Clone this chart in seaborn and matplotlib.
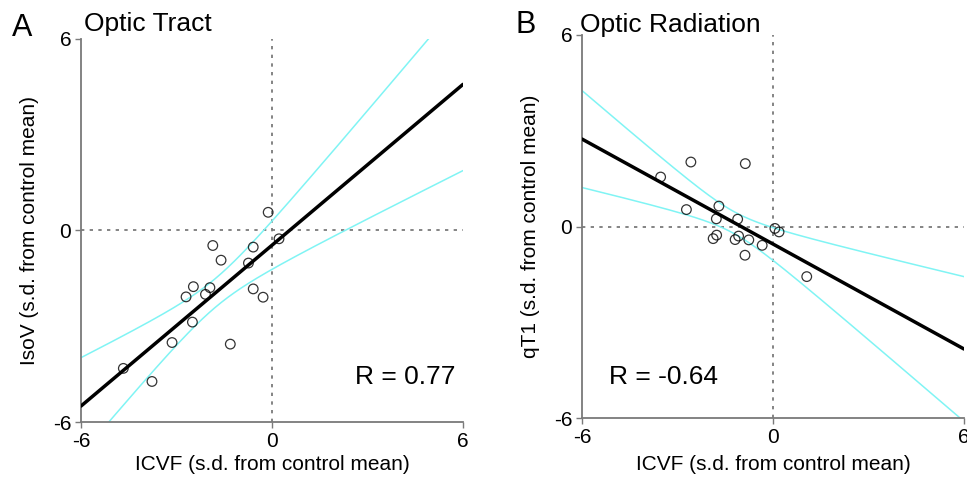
import numpy as np
import matplotlib
matplotlib.use("Agg")
import matplotlib.pyplot as plt
import seaborn as sns

# ---- data ----
tract_icvf = [-0.12, 0.22, -1.86, -0.59, -1.60, -0.74, -2.47, -1.95, -2.70,
              -2.09, -0.59, -0.28, -2.50, -3.14, -1.31, -4.67, -3.77]
tract_isov = [0.57, -0.26, -0.47, -0.52, -0.93, -1.02, -1.76, -1.79, -2.08,
              -2.00, -1.83, -2.09, -2.87, -3.51, -3.56, -4.32, -4.73]
rad_icvf = [-2.58, -0.87, -3.53, -2.72, -1.70, -1.78, -1.11, 0.06, 0.19,
            -1.77, -1.88, -1.08, -1.19, -0.76, -0.34, -0.88, 1.06]
rad_qt1 = [2.02, 1.97, 1.55, 0.53, 0.64, 0.24, 0.23, -0.06, -0.17,
           -0.27, -0.38, -0.30, -0.41, -0.42, -0.59, -0.90, -1.57]
ticks = [-6, 0, 6]
tick_labels = ["-6", "0", "6"]
panel_letters = ["A", "B"]
titles = ["Optic Tract", "Optic Radiation"]
ylabels = ["IsoV (s.d. from control mean)", "qT1 (s.d. from control mean)"]
xlabel = "ICVF (s.d. from control mean)"
r_labels = ["R = 0.77", "R = -0.64"]

sns.set_style("white")
plt.rcParams['font.family'] = ['Liberation Sans', 'DejaVu Sans']
plt.rcParams['text.color'] = 'black'
plt.rcParams['axes.labelcolor'] = 'black'
plt.rcParams['xtick.color'] = 'black'
plt.rcParams['ytick.color'] = 'black'

W, H = 967, 479
fig = plt.figure(figsize=(W / 100, H / 100), dpi=100)
axA = fig.add_axes([81 / W, 1 - 422 / H, 382 / W, 383 / H])
axB = fig.add_axes([582 / W, 1 - 418 / H, 382 / W, 383 / H])

CYAN = "#80f4f4"
GRAY = "#7a7a7a"


def panel(ax, x, y, ylab, rlab, rpos, xlab_y, band_t):
    ax.set_xlim(-6, 6)
    ax.set_ylim(-6, 6)
    ax.axhline(0, color="#707070", ls=(0, (2, 3.2)), lw=1.2, zorder=1)
    ax.axvline(0, color="#707070", ls=(0, (2, 3.2)), lw=1.2, zorder=1)

    xa = np.asarray(x)
    ya = np.asarray(y)
    n = len(xa)
    b1, b0 = np.polyfit(xa, ya, 1)
    grid = np.linspace(-6, 6, 300)
    resid = ya - (b0 + b1 * xa)
    s = np.sqrt((resid ** 2).sum() / (n - 2))
    sxx = ((xa - xa.mean()) ** 2).sum()
    hw = band_t * s * np.sqrt(1 / n + (grid - xa.mean()) ** 2 / sxx)
    fit = b0 + b1 * grid
    sns.lineplot(x=grid, y=fit + hw, color=CYAN, lw=1.1, ax=ax, zorder=2)
    sns.lineplot(x=grid, y=fit - hw, color=CYAN, lw=1.1, ax=ax, zorder=2)

    sns.regplot(x=xa, y=ya, ax=ax, ci=None, truncate=False,
                scatter_kws=dict(s=48, facecolors="none", edgecolors="black",
                                 linewidths=0.9, zorder=4),
                line_kws=dict(color="black", lw=2.5, zorder=3))
    ax.set_xlim(-6, 6)
    ax.set_ylim(-6, 6)

    sns.despine(ax=ax)
    for sp in ("left", "bottom"):
        ax.spines[sp].set_color(GRAY)
        ax.spines[sp].set_linewidth(1.3)
    ax.set_xticks(ticks)
    ax.set_xticklabels(tick_labels)
    ax.set_yticks(ticks)
    ax.set_yticklabels(tick_labels)
    ax.tick_params(bottom=True, left=True, direction="out", length=4,
                   width=1, color=GRAY, labelsize=15, pad=3,
                   labelcolor="black")
    ax.set_xlabel(xlabel, fontsize=15, color="black")
    ax.set_ylabel(ylab, fontsize=15, color="black")
    ax.xaxis.set_label_coords(0.5, xlab_y)
    ax.yaxis.set_label_coords(-0.11, 0.5)
    ax.text(rpos[0], rpos[1], rlab, fontsize=19, ha="left", va="center",
            color="black")


panel(axA, tract_icvf, tract_isov, ylabels[0], r_labels[0], (2.6, -4.6),
      -0.086, 1.92)
panel(axB, rad_icvf, rad_qt1, ylabels[1], r_labels[1], (-5.15, -4.72),
      -0.097, 1.83)

fig.text(12 / W, 1 - 36 / H, panel_letters[0], fontsize=22, va="baseline")
fig.text(84 / W, 1 - 31 / H, titles[0], fontsize=19, va="baseline")
fig.text(515 / W, 1 - 33 / H, panel_letters[1], fontsize=22, va="baseline")
fig.text(580 / W, 1 - 32 / H, titles[1], fontsize=19, va="baseline")

fig.savefig("out.png", dpi=100)
